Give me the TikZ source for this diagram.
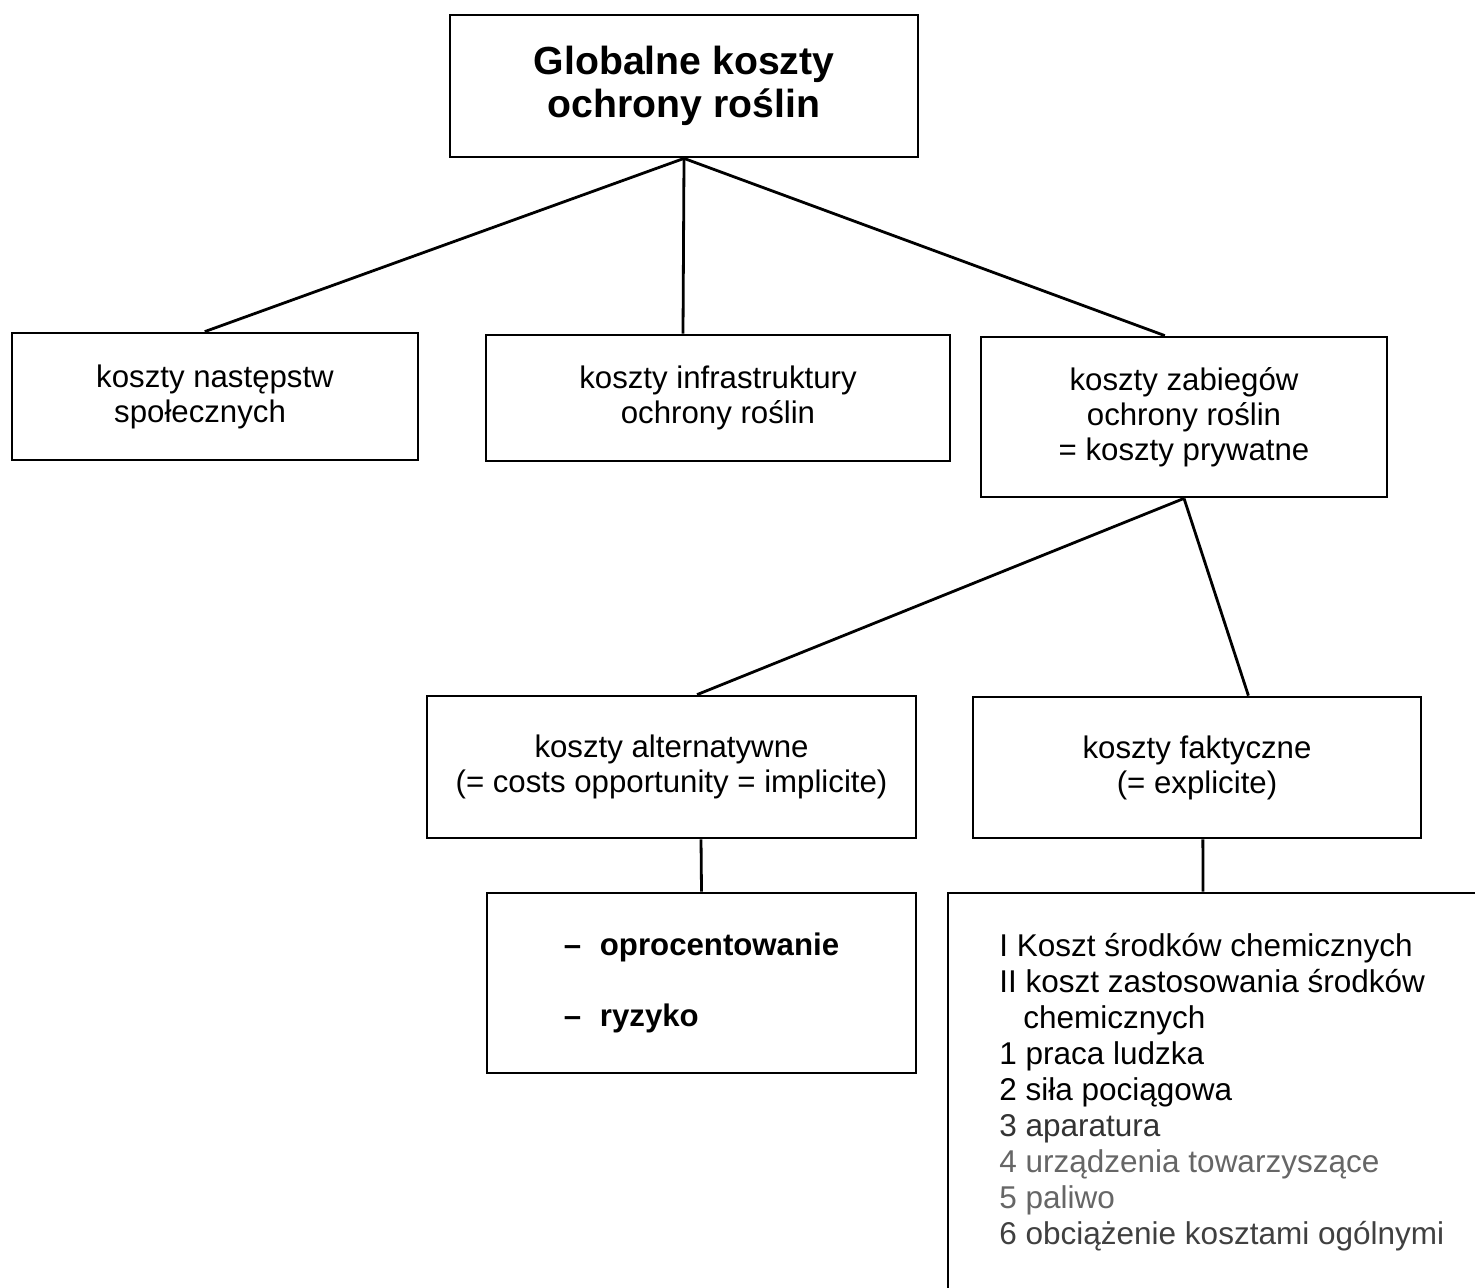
\documentclass[tikz,border=0pt]{standalone}
\usepackage{fontspec}
\setmainfont{Liberation Sans}
\usetikzlibrary{calc}
\begin{document}
\begin{tikzpicture}[x=0.5pt,y=-0.5pt,
  box/.style={draw, line width=1.4pt, inner sep=0pt, align=center,
    font=\fontsize{15.6pt}{17.5pt}\selectfont},
  link/.style={line width=1.4pt}]
\fill[white] (0,0) rectangle (1475,1287);
\useasboundingbox (0,0) rectangle (1475,1287);

\node[box, minimum width=234pt, minimum height=71pt,
  font=\bfseries\fontsize{19.6pt}{21.5pt}\selectfont] (top) at (684,86)
  {Globalne koszty\\ochrony roślin};

\node[box, align=left, minimum width=203pt, minimum height=63.5pt] (b1) at (215,396.5)
  {koszty następstw\\\hspace*{9pt}społecznych};
\node[box, minimum width=232pt, minimum height=63pt] (b2) at (718,398)
  {koszty infrastruktury\\ochrony roślin};
\node[box, minimum width=203pt, minimum height=80pt] (b3) at (1184,417)
  {koszty zabiegów\\ochrony roślin\\= koszty prywatne};

\node[box, minimum width=244.5pt, minimum height=71pt] (b4) at (671.5,767)
  {koszty alternatywne\\(= costs opportunity = implicite)};
\node[box, minimum width=224pt, minimum height=70.5pt] (b5) at (1197,767.5)
  {koszty faktyczne\\(= explicite)};

\node[box, align=left, minimum width=214.5pt, minimum height=90pt,
  font=\bfseries\fontsize{15.6pt}{35.5pt}\selectfont] (b6) at (701.5,983)
  {–\hspace{0.6em}oprocentowanie\\–\hspace{0.6em}ryzyko};

\node[box, minimum width=286pt, minimum height=218.5pt] (b7) at (1234,1111.5) {};
\node[anchor=north west, inner sep=0pt, align=left,
  font=\fontsize{15.75pt}{18pt}\selectfont] (b7text) at (999,933)
  {I Koszt środków chemicznych\\
   II koszt zastosowania środków\\
   \hspace*{12pt}chemicznych\\
   1 praca ludzka\\
   2 siła pociągowa\\
   \textcolor{black!80}{3 aparatura}\\
   \textcolor{black!60}{4 urządzenia towarzyszące}\\
   \textcolor{black!60}{5 paliwo}\\
   \textcolor{black!75}{6 obciążenie kosztami ogólnymi}};

\draw[link] (top.south) -- ($(b1.north west)!0.475!(b1.north east)$);
\draw[link] (top.south) -- ($(b2.north west)!0.425!(b2.north east)$);
\draw[link] (top.south) -- ($(b3.north west)!0.453!(b3.north east)$);
\draw[link] (b3.south) -- ($(b4.north west)!0.552!(b4.north east)$);
\draw[link] (b3.south) -- ($(b5.north west)!0.614!(b5.north east)$);
\draw[link] ($(b4.south west)!0.56!(b4.south east)$) -- (b6.north);
\draw[link] ($(b5.south west)!0.513!(b5.south east)$) -- ($(b7.north west)!0.446!(b7.north east)$);
\end{tikzpicture}
\end{document}
